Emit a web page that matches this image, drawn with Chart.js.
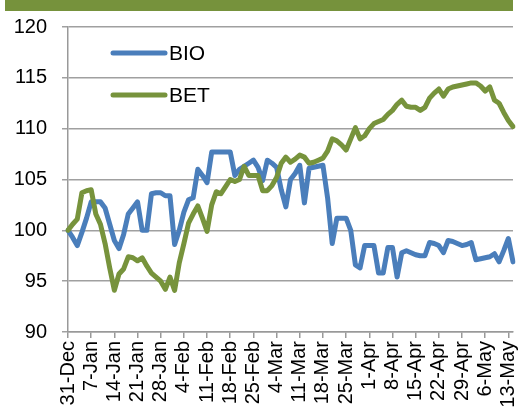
<!DOCTYPE html>
<html>
<head>
<meta charset="utf-8">
<script src="https://cdn.jsdelivr.net/npm/chart.js@4.4.1/dist/chart.umd.min.js"></script>
<style>
  html, body { margin: 0; padding: 0; background: #fff; }
  #wrap { position: relative; width: 520px; height: 412px; }
</style>
</head>
<body>
<div id="wrap"><canvas id="grafico" width="520" height="412"></canvas></div>
<script>
// Rótulos das marcas semanais do eixo x (um a cada 5 dias úteis)
const rotulosSemana = ['31-Dec', '7-Jan', '14-Jan', '21-Jan', '28-Jan', '4-Feb', '11-Feb', '18-Feb',
  '25-Feb', '4-Mar', '11-Mar', '18-Mar', '25-Mar', '1-Apr', '8-Apr', '15-Apr', '22-Apr', '29-Apr',
  '6-May', '13-May'];

// Séries diárias (dias úteis)
const serieBIO = [
  100.0, 99.3, 98.5, 99.8, 101.2, 102.8, 102.8, 102.8, 102.2, 100.6,
  99.0, 98.2, 99.6, 101.6, 102.2, 102.8, 100.0, 100.0, 103.6, 103.7,
  103.7, 103.4, 103.4, 98.6, 100.0, 101.8, 103.0, 103.2, 106.0, 105.4,
  104.7, 107.7, 107.7, 107.7, 107.7, 107.7, 105.4, 106.0, 106.3, 106.6,
  106.9, 106.2, 104.9, 106.9, 106.6, 106.2, 104.0, 102.3, 105.0, 105.6,
  106.4, 102.7, 106.1, 106.2, 106.3, 106.4, 103.2, 98.7, 101.2, 101.2,
  101.2, 100.0, 96.6, 96.3, 98.5, 98.5, 98.5, 95.8, 95.8, 98.3,
  98.3, 95.4, 97.8, 98.0, 97.8, 97.6, 97.5, 97.5, 98.8, 98.7,
  98.5, 97.8, 99.0, 98.9, 98.7, 98.5, 98.6, 98.8, 97.1, 97.2,
  97.3, 97.4, 97.7, 96.9, 98.0, 99.2, 96.9
];
const serieBET = [
  100.0, 100.6, 101.1, 103.7, 103.9, 104.0, 101.6, 100.6, 98.7, 96.3,
  94.1, 95.7, 96.2, 97.4, 97.3, 97.0, 97.3, 96.5, 95.8, 95.4,
  95.0, 94.2, 95.4, 94.1, 96.8, 98.7, 100.7, 101.6, 102.4, 101.2,
  99.9, 102.5, 103.8, 103.6, 104.3, 105.0, 104.8, 105.0, 106.3, 105.4,
  105.4, 105.4, 103.9, 103.9, 104.4, 105.2, 106.6, 107.2, 106.7, 107.0,
  107.4, 107.2, 106.6, 106.7, 106.9, 107.1, 107.8, 109.0, 108.8, 108.4,
  107.9, 109.0, 110.1, 109.0, 109.3, 110.0, 110.5, 110.7, 110.9, 111.4,
  111.8, 112.4, 112.8, 112.2, 112.1, 112.1, 111.8, 112.1, 113.0, 113.5,
  113.9, 113.2, 113.9, 114.1, 114.2, 114.3, 114.4, 114.5, 114.5, 114.2,
  113.7, 114.1, 112.8, 112.5, 111.6, 110.8, 110.2
];

const corBIO = '#4a7ebb';
const corBET = '#77933c';
const fonte = '"Liberation Sans", Arial, sans-serif';

// Rótulos de categoria: só a cada 5 pontos leva texto
const rotulos = serieBIO.map((_, i) => (i % 5 === 0 ? (rotulosSemana[i / 5] || '') : ''));

// Barra verde no topo e legenda desenhada dentro da área do gráfico
const extras = {
  id: 'extras',
  beforeDraw(chart) {
    const ctx = chart.ctx;
    ctx.save();
    ctx.fillStyle = '#76923c';
    ctx.fillRect(5, 0, 508, 11);
    ctx.restore();
  },
  afterDraw(chart) {
    const ctx = chart.ctx;
    const itens = [['BIO', corBIO, 53], ['BET', corBET, 95]];
    ctx.save();
    ctx.lineCap = 'round';
    ctx.lineWidth = 5;
    ctx.font = '21px ' + fonte;
    ctx.textBaseline = 'middle';
    ctx.fillStyle = '#000';
    itens.forEach(([nome, cor, y]) => {
      ctx.strokeStyle = cor;
      ctx.beginPath();
      ctx.moveTo(113, y);
      ctx.lineTo(165, y);
      ctx.stroke();
      ctx.fillText(nome, 169, y + 1);
    });
    ctx.restore();
  }
};

const ctx = document.getElementById('grafico').getContext('2d');
const grafico = new Chart(ctx, {
  type: 'line',
  data: {
    labels: rotulos,
    datasets: [
      { label: 'BIO', data: serieBIO, borderColor: corBIO, order: 1 },
      { label: 'BET', data: serieBET, borderColor: corBET, order: 0 }
    ]
  },
  options: {
    responsive: false,
    animation: false,
    layout: { padding: { top: 26, right: 7, left: 0, bottom: 0 } },
    elements: {
      line: { borderWidth: 5, tension: 0, borderJoinStyle: 'round', borderCapStyle: 'round' },
      point: { radius: 0 }
    },
    plugins: { legend: { display: false }, tooltip: { enabled: false } },
    scales: {
      x: {
        offset: false,
        afterFit(scale) {
          scale.height = 80;
          scale.paddingLeft = 0;
          scale.paddingRight = 0;
        },
        grid: { display: true, drawOnChartArea: false, drawTicks: true, tickLength: 6, color: '#999', lineWidth: 1.5 },
        border: { color: '#999', width: 1.5 },
        ticks: {
          autoSkip: false,
          maxRotation: 90,
          minRotation: 90,
          padding: 3,
          color: '#000',
          font: { family: fonte, size: 20 },
          callback(valor, i) { return i % 5 === 0 ? rotulos[i] : null; }
        }
      },
      y: {
        min: 90,
        max: 120,
        afterFit(scale) { scale.width = 68; },
        grid: { color: '#a0a0a0', lineWidth: 1.5, drawTicks: true, tickLength: 6 },
        border: { color: '#999', width: 1.5 },
        ticks: {
          stepSize: 5,
          padding: 15,
          color: '#000',
          font: { family: fonte, size: 20 }
        }
      }
    }
  },
  plugins: [extras]
});
</script>
</body>
</html>
